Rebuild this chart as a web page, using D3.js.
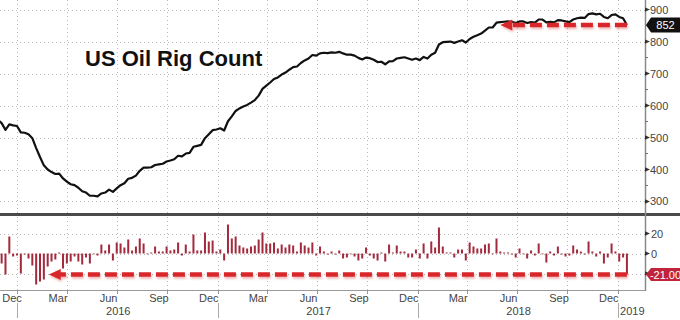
<!DOCTYPE html>
<head>
    <meta charset="utf-8">
    <script src="https://d3js.org/d3.v7.min.js"></script>
    <style>
        body { margin:0; background:#fff; }
        text { font-family: "Liberation Sans", Arial, sans-serif; }
    </style>
</head>
<body>
<script>
    // weekly US oil rig count (Fridays), late Nov 2015 .. 18 Jan 2019
    var rigCount = [
        555, 545, 524, 541, 538,
        536, 516, 515, 510, 498, 467, 439, 413, 400, 392, 386, 387, 372, 362, 354, 351, 343, 332, 328, 318, 318, 316,
        325, 328, 337, 330, 341, 351, 357, 371, 374, 381, 396, 406, 406, 407, 414, 416, 418, 425, 428, 432, 443, 441,
        450, 452, 471, 474, 477, 498, 510, 523, 525,
        529, 522, 551, 566, 583, 591, 597, 602, 609, 617, 631, 652, 662, 672, 683, 688, 697, 703, 712, 720, 722,
        733, 741, 747, 758, 756, 763, 765, 764, 766, 765, 768, 763, 759, 759, 756, 749, 744, 750, 748, 743, 736, 737,
        729, 738, 739, 747, 749, 751, 747, 743, 747,
        742, 752, 747, 759, 765, 791, 798, 799, 800, 796, 800, 804, 797, 808, 815, 820, 825, 834, 844, 844, 859,
        861, 862, 863, 862, 858, 863, 863, 858, 861, 859, 869, 869, 860, 862, 860, 867, 866, 863, 861, 869, 873, 875,
        874, 886, 888, 885, 887, 877, 873, 883, 885,
        877, 873, 852
    ];
    // week-on-week change shown in the lower panel
    var weeklyChange = [
        -2, -10, -21, 17, -3,
        -2, -20, -1, -5, -12, -31, -28, -26, -13, -8, -6, 1, -15, -10, -8, -3, -8, -11, -4, -10, 0, -2,
        9, 3, 9, -7, 11, 10, 6, 14, 3, 7, 15, 10, 0, 1, 7, 2, 2, 7, 3, 4, 11, -2,
        9, 2, 19, 3, 3, 21, 12, 13, 2,
        4, -7, 29, 15, 17, 8, 6, 5, 7, 8, 14, 21, 10, 10, 11, 5, 9, 6, 9, 8, 2,
        11, 8, 6, 11, -2, 7, 2, -1, 2, -1, 3, -5, -4, 0, -3, -7, -5, 6, -2, -5, -7, 1,
        -8, 9, 1, 8, 2, 2, -4, -4, 4,
        -5, 10, -5, 12, 6, 26, 7, 1, 1, -4, 4, 4, -7, 11, 7, 5, 5, 9, 10, 0, 15,
        2, 1, 1, -1, -4, 5, 0, -5, 3, -2, 10, 0, -9, 2, -2, 7, -1, -3, -2, 8, 4, 2,
        -1, 12, 2, -3, 2, -10, -4, 10, 2,
        -8, -4, -21
    ];
    var weeks = d3.timeFriday.range(new Date(2015, 10, 27), new Date(2019, 0, 19));

    var topTicks = [300, 400, 500, 600, 700, 800, 900];
    var topMinor = [350, 450, 550, 650, 750, 850];
    var botTicks = [-20, 0, 20];
    var botLabels = [0, 20];   // -20 sits under the red tag
    var lastLabel = "852";
    var changeLabel = "-21.00";
    var title = "US Oil Rig Count";
    // where the two red arrows start (arrow tips)
    var topArrowFrom = new Date(2018, 5, 1);
    var botArrowFrom = new Date(2016, 1, 28);

    var width = 680, height = 320,
        plotRight = 645,
        topPanel = [0, 213],
        botPanel = [217, 290];

    var svg = d3.select("body").append("svg")
        .attr("width", width)
        .attr("height", height);

    var defs = svg.append("defs");
    defs.append("clipPath").attr("id", "clipTop").append("rect")
        .attr("x", 0).attr("y", topPanel[0]).attr("width", plotRight).attr("height", topPanel[1] - topPanel[0]);
    defs.append("clipPath").attr("id", "clipBot").append("rect")
        .attr("x", 0).attr("y", botPanel[0]).attr("width", plotRight).attr("height", botPanel[1] - botPanel[0]);
    var shadow = defs.append("filter").attr("id", "shadow")
        .attr("x", "-5%").attr("y", "-100%").attr("width", "110%").attr("height", "300%");
    shadow.append("feDropShadow")
        .attr("dx", 1).attr("dy", 2).attr("stdDeviation", 1.2)
        .attr("flood-color", "#e07070").attr("flood-opacity", 0.5);

    var x = d3.scaleTime()
        .domain([new Date(2015, 11, 1), new Date(2019, 1, 20)])
        .range([0, plotRight]);
    var yTop = d3.scaleLinear().domain([264, 930]).range([topPanel[1], topPanel[0]]);
    var yBot = d3.scaleLinear().domain([-36.5, 36.5]).range([botPanel[1], botPanel[0]]);

    var quarterStarts = d3.timeMonth.range(new Date(2016, 0, 1), x.domain()[1], 3);
    var quarterLabels = d3.timeMonth.range(new Date(2015, 11, 1), new Date(2019, 0, 2), 3);
    var yearStarts = d3.timeYear.range(new Date(2016, 0, 1), x.domain()[1]);

    // grid
    var grid = svg.append("g")
        .attr("stroke", "#b8b8b8")
        .attr("stroke-width", 1)
        .attr("stroke-dasharray", "1,3");
    grid.selectAll("line.vt").data(quarterStarts).enter().append("line")
        .attr("x1", function(d) { return Math.round(x(d)) + 0.5; })
        .attr("x2", function(d) { return Math.round(x(d)) + 0.5; })
        .attr("y1", topPanel[0]).attr("y2", topPanel[1]);
    grid.selectAll("line.vb").data(quarterStarts).enter().append("line")
        .attr("x1", function(d) { return Math.round(x(d)) + 0.5; })
        .attr("x2", function(d) { return Math.round(x(d)) + 0.5; })
        .attr("y1", botPanel[0]).attr("y2", botPanel[1]);
    grid.selectAll("line.ht").data(topTicks).enter().append("line")
        .attr("x1", 0).attr("x2", plotRight)
        .attr("y1", function(d) { return Math.round(yTop(d)) + 0.5; })
        .attr("y2", function(d) { return Math.round(yTop(d)) + 0.5; });
    grid.selectAll("line.hb").data(botTicks).enter().append("line")
        .attr("x1", 0).attr("x2", plotRight)
        .attr("y1", function(d) { return Math.round(yBot(d)) + 0.5; })
        .attr("y2", function(d) { return Math.round(yBot(d)) + 0.5; });

    // rig count line
    var line = d3.line()
        .x(function(d, i) { return x(weeks[i]); })
        .y(function(d) { return yTop(d); });
    svg.append("path")
        .attr("clip-path", "url(#clipTop)")
        .attr("d", line(rigCount))
        .attr("fill", "none")
        .attr("stroke", "#111")
        .attr("stroke-width", 2.2)
        .attr("stroke-linejoin", "round");

    // weekly change bars
    svg.append("g")
        .attr("clip-path", "url(#clipBot)")
        .selectAll("rect").data(weeklyChange).enter().append("rect")
        .attr("x", function(d, i) { return x(weeks[i]) - 1; })
        .attr("width", 2)
        .attr("y", function(d) { return yBot(Math.max(0, d)); })
        .attr("height", function(d) { return Math.max(0.8, Math.abs(yBot(d) - yBot(0))); })
        .attr("fill", "#a3293d");

    // title
    svg.append("text")
        .attr("x", 85).attr("y", 66)
        .attr("font-size", 22)
        .attr("font-weight", "bold")
        .attr("fill", "#111")
        .text(title);

    // panel divider and frame
    svg.append("rect")
        .attr("x", 0).attr("y", 213).attr("width", width).attr("height", 3)
        .attr("fill", "#4a4a4a");
    svg.append("line")
        .attr("x1", plotRight + 0.5).attr("x2", plotRight + 0.5)
        .attr("y1", 0).attr("y2", botPanel[1] + 1)
        .attr("stroke", "#8a8a8a").attr("stroke-width", 1.5);
    svg.append("line")
        .attr("x1", 0).attr("x2", plotRight)
        .attr("y1", botPanel[1] + 0.5).attr("y2", botPanel[1] + 0.5)
        .attr("stroke", "#9a9a9a").attr("stroke-width", 1);

    // right axis ticks
    function tri(y) {
        return "M" + plotRight + "," + (y - 2.2) + "L" + (plotRight + 5) + "," + y + "L" + plotRight + "," + (y + 2.2) + "Z";
    }
    svg.selectAll("path.tt").data(topTicks).enter().append("path")
        .attr("d", function(d) { return tri(yTop(d)); })
        .attr("fill", "#333");
    svg.selectAll("line.tm").data(topMinor).enter().append("line")
        .attr("x1", plotRight).attr("x2", plotRight + 3)
        .attr("y1", function(d) { return yTop(d); })
        .attr("y2", function(d) { return yTop(d); })
        .attr("stroke", "#777");
    svg.selectAll("text.tt").data(topTicks).enter().append("text")
        .attr("x", plotRight + 5)
        .attr("y", function(d) { return yTop(d) + 4; })
        .attr("font-size", 11)
        .attr("fill", "#444")
        .text(function(d) { return d; });
    svg.selectAll("path.bt").data(botTicks).enter().append("path")
        .attr("d", function(d) { return tri(yBot(d)); })
        .attr("fill", "#333");
    svg.selectAll("text.bt").data(botLabels).enter().append("text")
        .attr("x", plotRight + 6)
        .attr("y", function(d) { return yBot(d) + 4; })
        .attr("font-size", 11)
        .attr("fill", "#444")
        .text(function(d) { return d; });

    // bottom axis: month and year labels
    svg.selectAll("line.mt").data(quarterStarts).enter().append("line")
        .attr("x1", function(d) { return Math.round(x(d)) + 0.5; })
        .attr("x2", function(d) { return Math.round(x(d)) + 0.5; })
        .attr("y1", botPanel[1]).attr("y2", botPanel[1] + 4)
        .attr("stroke", "#999");
    svg.selectAll("text.month").data(quarterLabels).enter().append("text")
        .attr("x", function(d) { return Math.max(12, x(d3.timeDay.offset(d, 15))); })
        .attr("y", 302)
        .attr("text-anchor", "middle")
        .attr("font-size", 11)
        .attr("fill", "#444")
        .text(function(d) { return d3.timeFormat("%b")(d); });
    svg.selectAll("line.yr").data(yearStarts).enter().append("line")
        .attr("x1", function(d) { return Math.round(x(d)) + 0.5; })
        .attr("x2", function(d) { return Math.round(x(d)) + 0.5; })
        .attr("y1", 303).attr("y2", 318)
        .attr("stroke", "#aaa");
    svg.selectAll("text.year").data(yearStarts).enter().append("text")
        .attr("x", function(d) {
            var end = d3.min([d3.timeYear.offset(d, 1), x.domain()[1]]);
            return (x(d) + x(end)) / 2 + 1;
        })
        .attr("y", 315)
        .attr("text-anchor", "middle")
        .attr("font-size", 11)
        .attr("fill", "#444")
        .text(function(d) { return d3.timeFormat("%Y")(d); });

    // red dashed arrows
    function arrow(fromDate, toDate, yv) {
        var g = svg.append("g").attr("filter", "url(#shadow)");
        var x0 = x(fromDate), x1 = x(toDate);
        g.append("line")
            .attr("x1", x1).attr("x2", x0 + 11)
            .attr("y1", yv).attr("y2", yv)
            .attr("stroke", "#d8262b")
            .attr("stroke-width", 4.5)
            .attr("stroke-dasharray", "12,5");
        g.append("path")
            .attr("d", "M" + x0 + "," + yv + "L" + (x0 + 12) + "," + (yv - 5.5) + "L" + (x0 + 12) + "," + (yv + 5.5) + "Z")
            .attr("fill", "#d8262b");
    }
    arrow(topArrowFrom, weeks[weeks.length - 1], yTop(rigCount[rigCount.length - 1]));
    arrow(botArrowFrom, weeks[weeks.length - 1], yBot(weeklyChange[weeklyChange.length - 1]));

    // last value tags
    function tag(yv, label, fill, h) {
        svg.append("path")
            .attr("d", "M" + (plotRight + 1) + "," + yv + "L" + (plotRight + 6) + "," + (yv - h / 2) +
                "L" + width + "," + (yv - h / 2) + "L" + width + "," + (yv + h / 2) +
                "L" + (plotRight + 6) + "," + (yv + h / 2) + "Z")
            .attr("fill", fill);
        svg.append("text")
            .attr("x", (plotRight + 6 + width) / 2)
            .attr("y", yv + 4)
            .attr("text-anchor", "middle")
            .attr("font-size", 11)
            .attr("fill", "#fff")
            .text(label);
    }
    tag(yTop(rigCount[rigCount.length - 1]), lastLabel, "#111", 15);
    tag(yBot(weeklyChange[weeklyChange.length - 1]), changeLabel, "#c0233a", 13);
</script>
</body>
